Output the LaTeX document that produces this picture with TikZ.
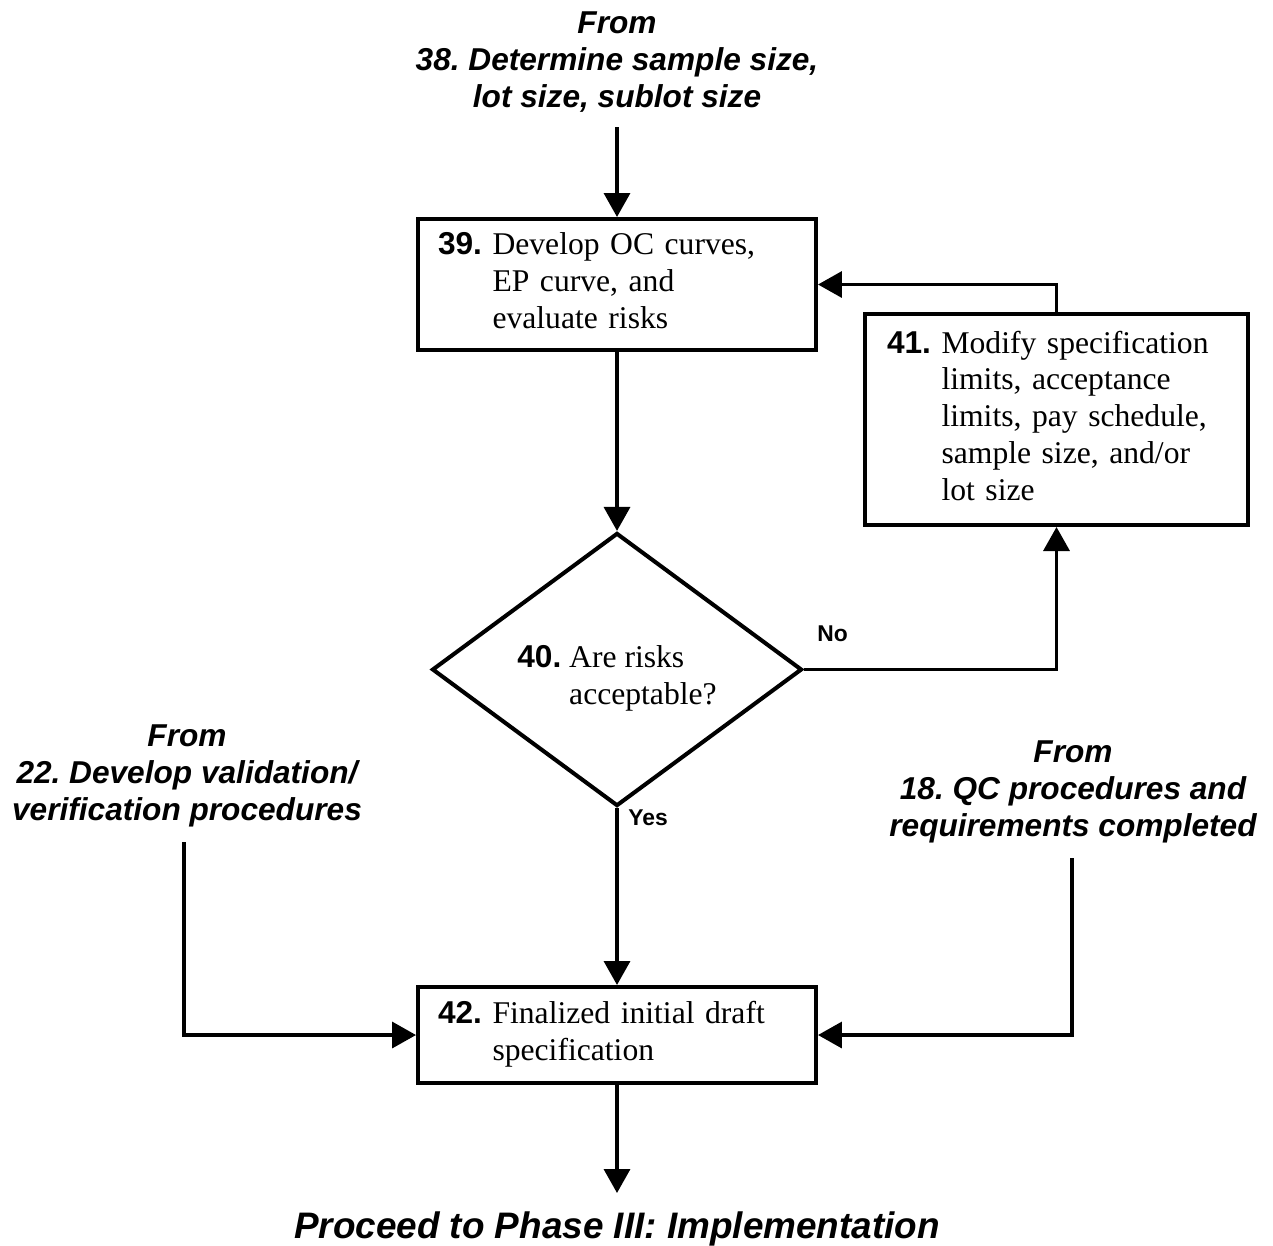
\documentclass[tikz,border=0pt]{standalone}
\usepackage{fontspec}
\setmainfont{Liberation Serif}
\setsansfont{Liberation Sans}
\usepackage{tikz}
\usetikzlibrary{arrows.meta,shapes.geometric}
\frenchspacing
\newcommand{\stepnum}[1]{\textsf{\bfseries #1}}
\newcommand{\srcfont}{\sffamily\bfseries\itshape\fontsize{18}{21}\selectfont}
\tikzset{
  stepbox/.style ={draw,line width=2.3pt,inner xsep=0.4cm,inner ysep=0pt,align=left,font=\fontsize{18}{21}\selectfont},
  decision/.style={diamond,draw,line width=2.3pt,inner sep=0pt,minimum width=7.4cm,minimum height=4.9cm,font=\fontsize{18}{21}\selectfont},
  srctext/.style ={inner sep=0pt,align=center,font=\srcfont},
  answer/.style  ={inner sep=0pt,anchor=base west,font=\sffamily\bfseries\fontsize{13}{15}\selectfont},
  flow/.style    ={line width=2pt,-{Triangle[length=0.48cm,width=0.52cm]}},
}

\begin{document}
\begin{tikzpicture}[x=0.02cm,y=-0.02cm]
  \useasboundingbox (0,0) rectangle (1273,1245);
  % where the inputs come from
  \node[srctext](f38) at (617,62){From\\38. Determine sample size,\\lot size, sublot size};
  \node[srctext](f22) at (187,776){From\\22. Develop validation/\\verification procedures};
  \node[srctext](f18) at (1073,792){From\\18. QC procedures and\\requirements completed};
  \coordinate (s38) at (617,127); \coordinate (s22) at (184,842); \coordinate (s18) at (1072,858); \coordinate (e42) at (617,1193);
  % steps
  \node[stepbox,text width=7.16cm,minimum height=2.62cm](n39) at (617,284.5){\noindent\begin{tabular}{@{}l@{\ }l@{}}\stepnum{39.} & Develop OC curves,\\ & EP curve, and\\ & evaluate risks\end{tabular}};
  \node[decision,text height=30.5pt,text depth=11.5pt](n40) at (617,669.5){\begin{tabular}{@{}l@{\ }l@{}}\stepnum{40.} & Are risks\\ & acceptable?\end{tabular}};
  \node[stepbox,text width=6.78cm,inner xsep=0.44cm,minimum height=4.22cm](n41) at (1056.5,419.5){\noindent\begin{tabular}{@{}l@{\ }l@{}}\stepnum{41.} & Modify specification\\ & limits, acceptance\\ & limits, pay schedule,\\ & sample size, and/or\\ & lot size\end{tabular}};
  \node[stepbox,text width=7.16cm,minimum height=1.92cm](n42) at (617,1035){\noindent\begin{tabular}{@{}l@{\ }l@{}}\stepnum{42.} & Finalized initial draft\\ & specification\end{tabular}};
  \node[answer](no) at (817,641){No}; \node[answer](yes) at (628,825){Yes};
  \node[inner sep=0pt,anchor=base,font=\sffamily\bfseries\itshape\fontsize{21}{25}\selectfont](p3) at (617,1238){Proceed to Phase III: Implementation};
  % connectors
  \foreach \a/\b in {s38/n39,n39/n40,n40/n42,n42/e42}{\draw[flow](\a)--(\b);}
  \draw[flow](n40.east) -| (n41.south);
  \draw[flow](n41.north) |- (n39.east);
  \draw[flow](s22) |- (n42.west);
  \draw[flow](s18) |- (n42.east);
\end{tikzpicture}
\end{document}
